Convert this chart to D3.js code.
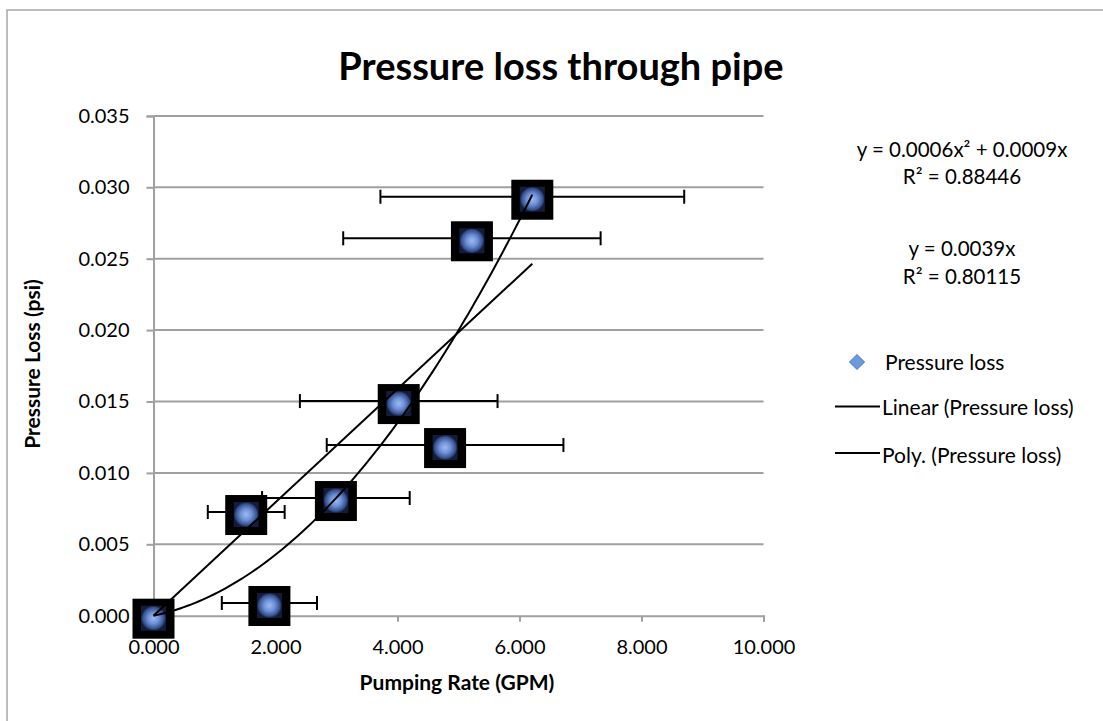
<!DOCTYPE html>
<html>
<head>
<meta charset="utf-8">
<script src="https://cdn.jsdelivr.net/npm/d3@7"></script>
<style>
  body { margin: 0; background: #fff; }
  svg { display: block; font-family: Lato, "Liberation Sans", sans-serif; }
</style>
</head>
<body>
<svg width="1103" height="721"></svg>
<script>
// data
const rate = [0.00, 1.90, 1.52, 2.99, 4.02, 4.78, 5.22, 6.21];
const loss = [0.0000, 0.00089, 0.00726, 0.00824, 0.01503, 0.01195, 0.02643, 0.02934];
const rateErr = [0.00, 0.78, 0.63, 1.21, 1.62, 1.94, 2.11, 2.49];

const xTicks = [0, 2, 4, 6, 8, 10];
const yTicks = [0, 0.005, 0.010, 0.015, 0.020, 0.025, 0.030, 0.035];
const eqLines = ['y = 0.0006x² + 0.0009x', 'R² = 0.88446', 'y = 0.0039x', 'R² = 0.80115'];
const legendNames = ['Pressure loss', 'Linear (Pressure loss)', 'Poly. (Pressure loss)'];

const svg = d3.select('svg');

// outer chart frame
svg.append('rect')
    .attr('x', 7).attr('y', 10)
    .attr('width', 1110).attr('height', 730)
    .attr('fill', 'none')
    .attr('stroke', '#a6a6a6')
    .attr('stroke-width', 1.5);

const x = d3.scaleLinear().domain([0, 10]).range([153.5, 763.5]);
const y = d3.scaleLinear().domain([0, 0.035]).range([615.7, 115.9]);

// grid lines
svg.append('g')
    .selectAll('line')
    .data(yTicks.slice(1))
    .join('line')
    .attr('x1', x(0)).attr('x2', x(10))
    .attr('y1', d => y(d)).attr('y2', d => y(d))
    .attr('stroke', '#a0a0a0')
    .attr('stroke-width', 2);

// axes
const yAxis = svg.append('g')
    .attr('transform', `translate(${x(0)},0)`)
    .call(d3.axisLeft(y).tickValues(yTicks).tickFormat(d3.format('.3f')).tickSize(7).tickPadding(17));
const xAxis = svg.append('g')
    .attr('transform', `translate(0,${y(0)})`)
    .call(d3.axisBottom(x).tickValues(xTicks).tickFormat(d3.format('.3f')).tickSize(6).tickPadding(18));

[yAxis, xAxis].forEach(g => {
    g.select('.domain').attr('stroke', '#a0a0a0').attr('stroke-width', 2);
    g.selectAll('.tick line').attr('stroke', '#a0a0a0').attr('stroke-width', 2);
    g.selectAll('.tick text')
        .attr('fill', '#000')
        .style('font-size', '20px')
        .style('font-family', 'Lato, "Liberation Sans", sans-serif');
});

// horizontal error bars
const pts = rate.map((r, i) => ({ x: r, y: loss[i], e: rateErr[i] }));
const err = svg.append('g').attr('stroke', '#000').attr('stroke-width', 2);
pts.filter(p => p.e > 0).forEach(p => {
    err.append('line')
        .attr('x1', x(p.x - p.e)).attr('x2', x(p.x + p.e))
        .attr('y1', y(p.y)).attr('y2', y(p.y));
    [p.x - p.e, p.x + p.e].forEach(v => {
        err.append('line')
            .attr('x1', x(v)).attr('x2', x(v))
            .attr('y1', y(p.y) - 7).attr('y2', y(p.y) + 7);
    });
});

// picture markers: black square with a blurry blue centre
const defs = svg.append('defs');
const grad = defs.append('radialGradient').attr('id', 'ball');
grad.append('stop').attr('offset', '0%').attr('stop-color', '#9fbaf0');
grad.append('stop').attr('offset', '45%').attr('stop-color', '#6f90d6');
grad.append('stop').attr('offset', '85%').attr('stop-color', '#33508f');
grad.append('stop').attr('offset', '100%').attr('stop-color', '#141c3a');

const mk = svg.append('g')
    .selectAll('g')
    .data(pts)
    .join('g')
    .attr('transform', d => `translate(${x(d.x)},${y(d.y) + 4})`);
mk.append('rect')
    .attr('x', -21).attr('y', -21)
    .attr('width', 42).attr('height', 40)
    .attr('fill', '#000');
mk.append('rect')
    .attr('x', -12.5).attr('y', -14)
    .attr('width', 25).attr('height', 25)
    .attr('fill', 'url(#ball)');

// trend lines (least squares through the origin)
let sxy = 0, sxx = 0, sx3 = 0, sx4 = 0, sx2y = 0;
pts.forEach(p => {
    sxy += p.x * p.y; sxx += p.x * p.x;
    sx3 += p.x ** 3; sx4 += p.x ** 4; sx2y += p.x * p.x * p.y;
});
const slope = sxy / sxx;
const det = sx4 * sxx - sx3 * sx3;
const qa = (sx2y * sxx - sx3 * sxy) / det;
const qb = (sx4 * sxy - sx3 * sx2y) / det;
const xMax = d3.max(rate);
const xs = d3.range(0, 101).map(i => xMax * i / 100);

const line = d3.line().x(d => x(d[0])).y(d => y(d[1]));
svg.append('path')
    .attr('d', line([[0, 0], [xMax, slope * xMax]]))
    .attr('fill', 'none').attr('stroke', '#000').attr('stroke-width', 2);
svg.append('path')
    .attr('d', line(xs.map(v => [v, qa * v * v + qb * v])))
    .attr('fill', 'none').attr('stroke', '#000').attr('stroke-width', 2);

// title and axis titles
svg.append('text')
    .attr('x', 561).attr('y', 80)
    .attr('text-anchor', 'middle')
    .style('font-size', '38px').style('font-weight', 'bold')
    .text('Pressure loss through pipe');
svg.append('text')
    .attr('x', 457).attr('y', 690)
    .attr('text-anchor', 'middle')
    .style('font-size', '21px').style('font-weight', 'bold')
    .text('Pumping Rate (GPM)');
svg.append('text')
    .attr('transform', 'translate(40,364) rotate(-90)')
    .attr('text-anchor', 'middle')
    .style('font-size', '21px').style('font-weight', 'bold')
    .text('Pressure Loss (psi)');

// trendline equations
svg.append('g')
    .selectAll('text')
    .data(eqLines)
    .join('text')
    .attr('x', 962)
    .attr('y', (d, i) => [150, 177, 249, 277][i])
    .attr('dy', '0.35em')
    .attr('text-anchor', 'middle')
    .style('font-size', '20.5px')
    .text(d => d);

// legend
const lg = svg.append('g');
lg.append('path')
    .attr('d', d3.symbol(d3.symbolSquare, 110)())
    .attr('transform', 'translate(857,362) rotate(45)')
    .attr('fill', '#6b9ae0')
    .attr('stroke', '#5584cc')
    .attr('stroke-width', 1);
[406.5, 453].forEach(yy => {
    lg.append('line')
        .attr('x1', 835).attr('x2', 880)
        .attr('y1', yy).attr('y2', yy)
        .attr('stroke', '#000').attr('stroke-width', 2);
});
lg.selectAll('text')
    .data(legendNames)
    .join('text')
    .attr('x', (d, i) => i === 0 ? 885 : 882)
    .attr('y', (d, i) => [363, 408, 456][i])
    .attr('dy', '0.35em')
    .style('font-size', '21px')
    .text(d => d);
</script>
</body>
</html>
